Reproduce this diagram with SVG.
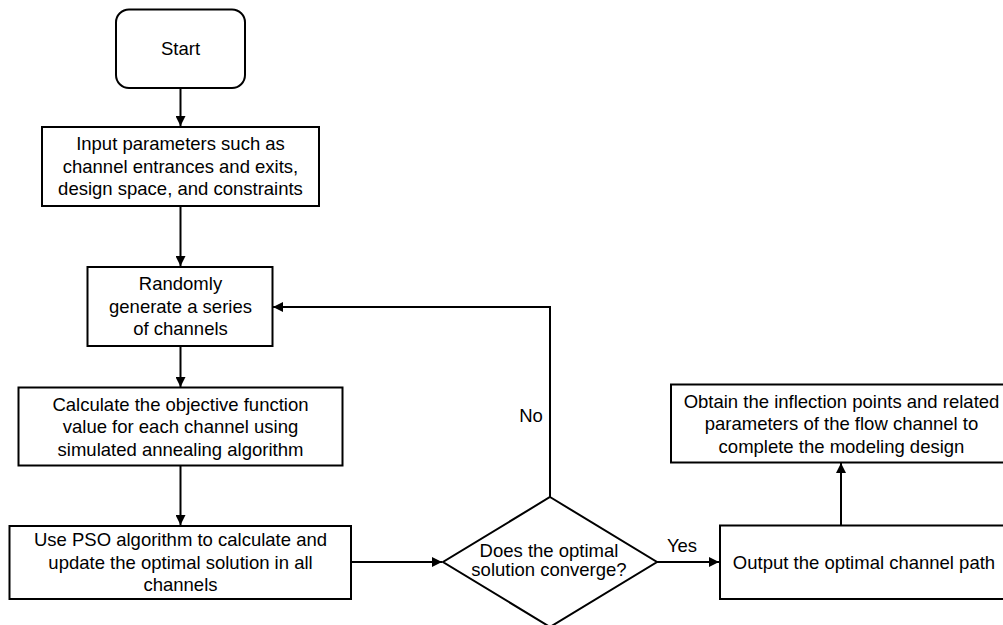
<svg xmlns="http://www.w3.org/2000/svg" width="1003" height="625" viewBox="0 0 1003 625">
<style>
.box{fill:#fff;stroke:#000;stroke-width:2}
.t{font-family:"Liberation Sans",Arial,sans-serif;font-size:18.5px;fill:#000;text-anchor:middle}
.c{fill:none;stroke:#000;stroke-width:2}
</style>
<defs>
<marker id="ah" markerWidth="10" markerHeight="10" refX="10" refY="5" orient="auto" markerUnits="userSpaceOnUse">
<path d="M0,0 L10,5 L0,10 Z" fill="#000"/>
</marker>
</defs>
<rect width="1003" height="625" fill="#fff"/>
<g id="connectors">
<line class="c" x1="180.5" y1="88" x2="180.5" y2="126" marker-end="url(#ah)"/>
<line class="c" x1="180.5" y1="206" x2="180.5" y2="266" marker-end="url(#ah)"/>
<line class="c" x1="180.5" y1="346" x2="180.5" y2="387" marker-end="url(#ah)"/>
<line class="c" x1="180.5" y1="466" x2="180.5" y2="525" marker-end="url(#ah)"/>
<line class="c" x1="351" y1="562" x2="442" y2="562" marker-end="url(#ah)"/>
<polyline class="c" points="550,497 550,307 273,307" marker-end="url(#ah)"/>
<line class="c" x1="657" y1="562" x2="719" y2="562" marker-end="url(#ah)"/>
<line class="c" x1="841" y1="525" x2="841" y2="463" marker-end="url(#ah)"/>
<text class="t" x="531" y="422">No</text>
<text class="t" x="682" y="552">Yes</text>
</g>
<g id="start">
<rect class="box" x="116" y="9.5" width="129" height="78.5" rx="13"/>
<text class="t" x="180.5" y="55">Start</text>
</g>
<g id="input">
<rect class="box" x="42" y="127" width="277" height="79"/>
<text class="t" x="180.5" y="150">Input parameters such as</text>
<text class="t" x="180.5" y="172.5">channel entrances and exits,</text>
<text class="t" x="180.5" y="195">design space, and constraints</text>
</g>
<g id="random">
<rect class="box" x="87.5" y="267" width="185" height="79"/>
<text class="t" x="180.5" y="290">Randomly</text>
<text class="t" x="180.5" y="312.5">generate a series</text>
<text class="t" x="180.5" y="335">of channels</text>
</g>
<g id="calc">
<rect class="box" x="18.5" y="387.5" width="324" height="78"/>
<text class="t" x="180.5" y="410.5">Calculate the objective function</text>
<text class="t" x="180.5" y="433">value for each channel using</text>
<text class="t" x="180.5" y="455.5">simulated annealing algorithm</text>
</g>
<g id="pso">
<rect class="box" x="9.5" y="526" width="341.5" height="73"/>
<text class="t" x="180.5" y="546">Use PSO algorithm to calculate and</text>
<text class="t" x="180.5" y="568.5">update the optimal solution in all</text>
<text class="t" x="180.5" y="591">channels</text>
</g>
<g id="decision">
<polygon class="box" points="550,497 657,562 550,627 443,562"/>
<text class="t" x="549" y="556.5">Does the optimal</text>
<text class="t" x="549" y="576">solution converge?</text>
</g>
<g id="output">
<rect class="box" x="720" y="525.5" width="290" height="73.5"/>
<text class="t" x="864" y="568.5">Output the optimal channel path</text>
</g>
<g id="obtain">
<rect class="box" x="671" y="384.5" width="340" height="78"/>
<text class="t" x="841.5" y="407.5">Obtain the inflection points and related</text>
<text class="t" x="841.5" y="430">parameters of the flow channel to</text>
<text class="t" x="841.5" y="452.5">complete the modeling design</text>
</g>
</svg>
